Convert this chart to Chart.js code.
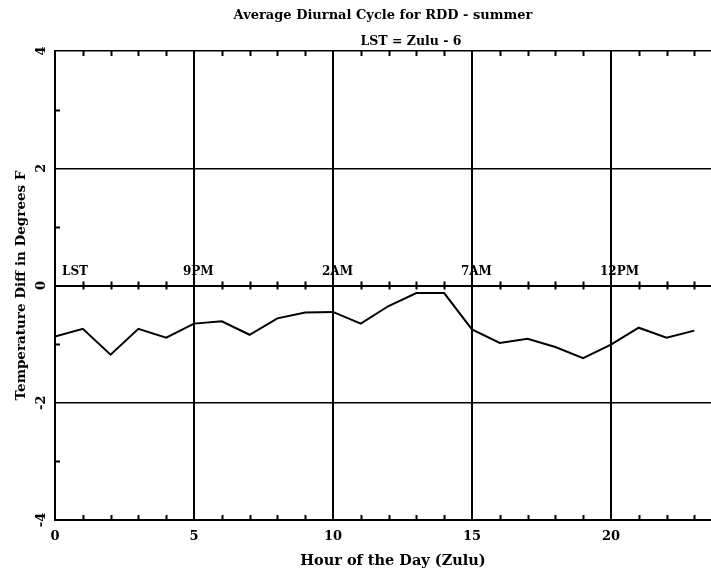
<!DOCTYPE html>
<html>
<head>
<meta charset="utf-8">
<script src="https://cdn.jsdelivr.net/npm/chart.js@4"></script>
<style>
  html, body { margin: 0; padding: 0; background: #fff; }
  canvas { display: block; }
</style>
</head>
<body>
<canvas id="myChart" width="711" height="573"></canvas>
<script>
const ctx = document.getElementById('myChart');

// hour of day (Zulu) and average temperature difference (deg F)
const hours = [0, 1, 2, 3, 4, 5, 6, 7, 8, 9, 10, 11, 12, 13, 14, 15, 16, 17, 18, 19, 20, 21, 22, 23];
const tempDiff = [-0.87, -0.74, -1.18, -0.74, -0.89, -0.65, -0.61, -0.84, -0.56, -0.46, -0.45, -0.65,
                  -0.35, -0.13, -0.13, -0.75, -0.98, -0.91, -1.05, -1.24, -1.01, -0.72, -0.89, -0.77];

// local time labels shown along the zero line
const lstHours = [0, 5, 10, 15, 20];
const lstLabels = ['LST', '9PM', '2AM', '7AM', '12PM'];

const yTicks = [-4, -2, 0, 2, 4];
const chartTitle = 'Average Diurnal Cycle for RDD - summer';
const chartSubtitle = 'LST = Zulu - 6';
const xTitle = 'Hour of the Day (Zulu)';
const yTitle = 'Temperature Diff in Degrees F';

const FONT = '"DejaVu Serif", serif';

// frame ticks, LST labels and titles
const decor = {
  id: 'decor',
  afterDraw(chart) {
    const c = chart.ctx;
    const a = chart.chartArea;
    const xs = chart.scales.x;
    const ys = chart.scales.y;
    const y0 = ys.getPixelForValue(0);
    c.save();
    c.strokeStyle = '#000';
    c.lineWidth = 2;
    c.beginPath();
    for (let h = 1; h < 24; h++) {
      if (h % 5 === 0) continue;
      const px = Math.round(xs.getPixelForValue(h)) + 0.5;
      c.moveTo(px, a.top); c.lineTo(px, a.top + 5);
      c.moveTo(px, a.bottom); c.lineTo(px, a.bottom - 5);
      c.moveTo(px, y0 - 4); c.lineTo(px, y0 + 4);
    }
    [-3, -1, 1, 3].forEach(v => {
      const py = Math.round(ys.getPixelForValue(v)) + 0.5;
      c.moveTo(a.left, py); c.lineTo(a.left + 5, py);
    });
    c.stroke();

    c.fillStyle = '#000';
    c.font = 'bold 12px ' + FONT;
    c.textBaseline = 'alphabetic';
    c.textAlign = 'left';
    lstHours.forEach((h, i) => {
      const px = xs.getPixelForValue(h);
      c.fillText(lstLabels[i], h === 0 ? px + 7 : px - 11, y0 - 11);
    });

    c.textAlign = 'center';
    c.font = 'bold 13px ' + FONT;
    c.fillText(chartTitle, (a.left + a.right) / 2, 19);
    c.font = 'bold 12.5px ' + FONT;
    c.fillText(chartSubtitle, 411, 45);
    c.font = 'bold 14.5px ' + FONT;
    c.fillText(xTitle, 393, 565);

    c.translate(25, (a.top + a.bottom) / 2);
    c.rotate(-Math.PI / 2);
    c.font = 'bold 13.5px ' + FONT;
    c.fillText(yTitle, 0, 0);
    c.restore();
  }
};

let myChart = new Chart(ctx, {
  type: 'line',
  data: {
    labels: hours,
    datasets: [{
      label: 'Temperature Diff',
      data: hours.map((h, i) => ({ x: h, y: tempDiff[i] })),
      borderColor: '#000',
      borderWidth: 2,
      pointRadius: 0,
      tension: 0,
      fill: false
    }]
  },
  options: {
    responsive: false,
    animation: false,
    devicePixelRatio: 1,
    layout: { padding: { top: 51, right: 0, left: 0, bottom: 0 } },
    plugins: {
      legend: { display: false },
      tooltip: { enabled: false }
    },
    scales: {
      x: {
        type: 'linear',
        min: 0,
        max: 23.6,
        afterFit: s => { s.height = 53; },
        afterBuildTicks: s => { s.ticks = hours.map(h => ({ value: h })); },
        ticks: {
          color: '#000',
          font: { family: FONT, size: 13, weight: 'bold' },
          padding: 9,
          maxRotation: 0,
          autoSkip: false,
          callback: v => (v % 5 === 0 ? String(v) : '')
        },
        grid: {
          drawTicks: false,
          lineWidth: 2,
          color: c => (c.tick && c.tick.value % 5 === 0 && c.tick.value !== 0 ? '#000' : 'rgba(0,0,0,0)')
        },
        border: { display: true, color: '#000', width: 2 }
      },
      y: {
        min: -4,
        max: 4,
        afterFit: s => { s.width = 55; },
        afterBuildTicks: s => { s.ticks = [-4, -3, -2, -1, 0, 1, 2, 3, 4].map(v => ({ value: v })); },
        ticks: {
          color: '#000',
          font: { family: FONT, size: 13, weight: 'bold' },
          minRotation: 90,
          maxRotation: 90,
          crossAlign: 'center',
          padding: 6,
          autoSkip: false,
          callback: v => (yTicks.includes(v) ? String(v) : '')
        },
        grid: {
          drawTicks: false,
          lineWidth: c => (c.tick && c.tick.value === 0 ? 2 : 1.5),
          color: c => (c.tick && c.tick.value % 2 === 0 ? '#000' : 'rgba(0,0,0,0)')
        },
        border: { display: true, color: '#000', width: 2 }
      }
    }
  },
  plugins: [decor]
});
</script>
</body>
</html>
